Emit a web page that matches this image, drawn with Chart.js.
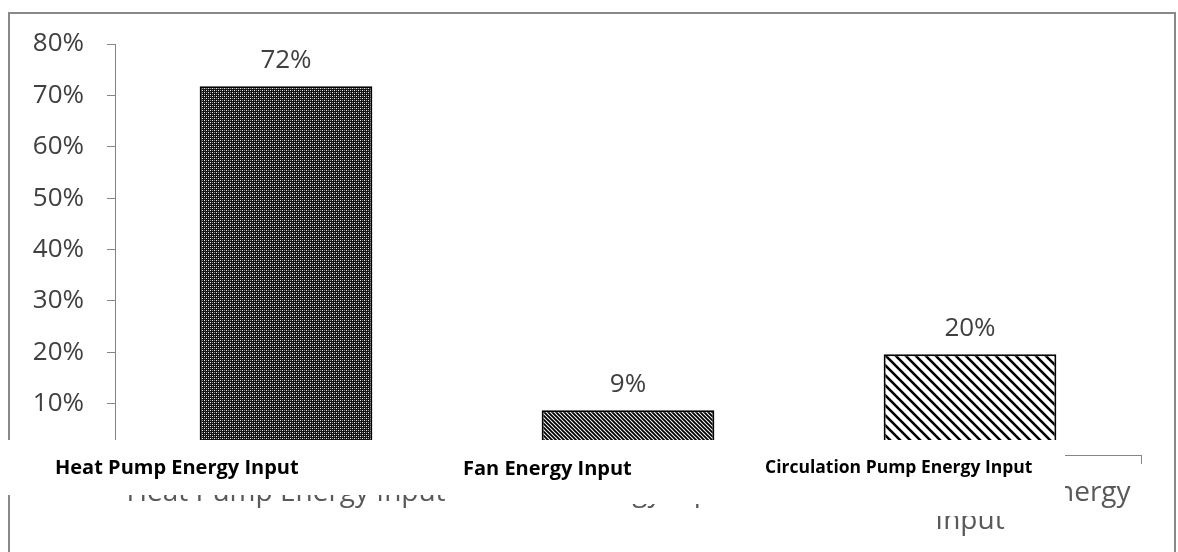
<!DOCTYPE html>
<html>
<head>
<meta charset="utf-8">
<script src="https://cdn.jsdelivr.net/npm/chart.js@4"></script>
<style>
  html, body { margin: 0; padding: 0; background: #fff; }
</style>
</head>
<body>
<canvas id="chart" width="1178" height="552"></canvas>
<script>
// data
const categories = ["Heat Pump Energy Input", "Fan Energy Input", "Circulation Pump Energy Input"];
const axisLabels = [["Heat Pump Energy Input"], ["Fan Energy Input"], ["Circulation Pump Energy", "Input"]];
const shares = [0.718, 0.087, 0.196];
const yMin = 0, yMax = 0.8, yStep = 0.1;

// fill patterns (dots, fine hatch, wide hatch)
function makePattern(kind) {
  const c = document.createElement("canvas");
  const x = c.getContext("2d");
  if (kind === "dots") {
    c.width = c.height = 4;
    x.fillStyle = "#141414"; x.fillRect(0, 0, 4, 4);
    x.fillStyle = "#f0f0f0"; x.fillRect(0, 0, 1, 1); x.fillRect(2, 2, 1, 1);
    x.fillStyle = "#8a8a8a"; x.fillRect(2, 0, 1, 1); x.fillRect(0, 2, 1, 1);
    return x.createPattern(c, "repeat");
  }
  const s = kind === "fine" ? 4 : 10;
  c.width = c.height = s;
  x.fillStyle = "#fff"; x.fillRect(0, 0, s, s);
  x.strokeStyle = "#000";
  x.lineWidth = kind === "fine" ? 1.9 : 2.6;
  x.beginPath();
  [-s, 0, s].forEach(k => { x.moveTo(k - 1, -1); x.lineTo(k + s + 1, s + 1); });
  x.stroke();
  return x.createPattern(c, "repeat");
}

const ctx = document.getElementById("chart").getContext("2d");
const fills = [makePattern("dots"), makePattern("fine"), makePattern("wide")];

const overlay = {
  id: "overlay",
  beforeDraw(chart) {
    const c = chart.ctx;
    c.save();
    c.fillStyle = "#fff";
    c.fillRect(0, 0, chart.width, chart.height);
    c.strokeStyle = "#898989";
    c.lineWidth = 2;
    c.strokeRect(9, 13, 1166, 600);
    c.restore();
  },
  afterDatasetsDraw(chart) {
    const c = chart.ctx;
    const meta = chart.getDatasetMeta(0);
    c.save();
    c.font = '26px "Open Sans"';
    c.fillStyle = "#404040";
    c.textAlign = "center";
    c.textBaseline = "middle";
    meta.data.forEach((bar, i) => {
      c.fillText(Math.round(shares[i] * 100) + "%", bar.x, bar.y - 26);
    });
    c.restore();
  },
  afterDraw(chart) {
    const c = chart.ctx;
    c.save();
    // white text boxes pasted over the original axis labels
    c.fillStyle = "#fff";
    c.fillRect(0, 440, 480, 55);
    c.fillRect(480, 440, 300, 64);
    c.fillRect(780, 440, 285, 76);
    c.fillStyle = "#000";
    c.textAlign = "left";
    c.textBaseline = "alphabetic";
    c.font = 'bold 20px "Open Sans"';
    c.fillText(categories[0], 55, 474);
    c.fillText(categories[1], 463, 475);
    c.font = 'bold 17.5px "Open Sans"';
    c.fillText(categories[2], 765, 473);
    c.restore();
  }
};

new Chart(ctx, {
  type: "bar",
  data: {
    labels: axisLabels,
    datasets: [{
      data: shares,
      backgroundColor: fills,
      borderColor: "#000",
      borderWidth: 2,
      borderSkipped: false,
      barPercentage: 0.505,
      categoryPercentage: 1
    }]
  },
  options: {
    responsive: false,
    animation: false,
    layout: { padding: { left: 0, right: 37, top: 44, bottom: 0 } },
    plugins: { legend: { display: false }, tooltip: { enabled: false } },
    scales: {
      x: {
        grid: { display: true, drawOnChartArea: false, drawTicks: true, tickLength: 9, color: "#868686" },
        border: { display: true, color: "#868686" },
        ticks: {
          maxRotation: 0,
          autoSkip: false,
          padding: 15,
          color: "#595959",
          font: { family: "Open Sans", size: 28, lineHeight: 1.0 }
        },
        afterFit(scale) { scale.height = 97; }
      },
      y: {
        min: yMin,
        max: yMax,
        grid: { drawOnChartArea: false, drawTicks: true, tickLength: 8, color: "#868686" },
        border: { display: true, color: "#868686" },
        ticks: {
          stepSize: yStep,
          padding: 23,
          color: "#404040",
          font: { family: "Open Sans", size: 26 },
          callback: v => Math.round(v * 100) + "%"
        },
        afterFit(scale) { scale.width = 115; }
      }
    }
  },
  plugins: [overlay]
});
</script>
</body>
</html>
